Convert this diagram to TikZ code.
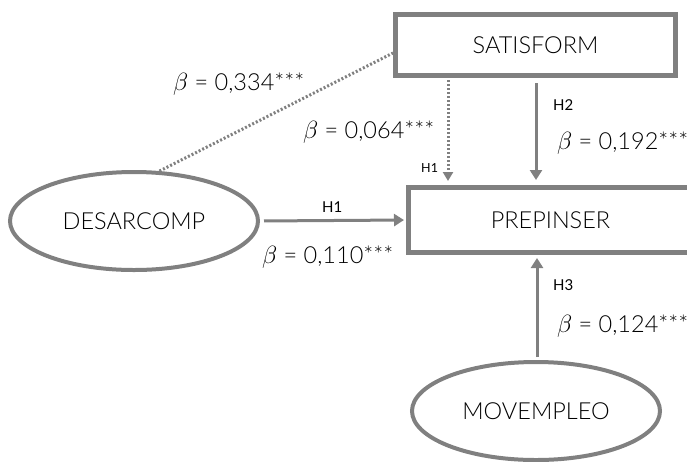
\documentclass[tikz,border=0pt]{standalone}
\usepackage{fontspec}
\setmainfont{Lato Light}
\newfontfamily\hfont{Lato}
\usetikzlibrary{arrows.meta,shapes.geometric}
\definecolor{ln}{RGB}{128,128,128}
\begin{document}
\begin{tikzpicture}[x=1pt,y=-1pt,
  box/.style={draw=ln,line width=5pt,rectangle,inner sep=0pt,font=\fontsize{23.5}{26}\selectfont},
  ell/.style={draw=ln,line width=4pt,ellipse,inner sep=0pt,minimum width=248pt,minimum height=98pt,font=\fontsize{23.5}{26}\selectfont},
  arr/.style={draw=ln,line width=3pt,-{Triangle[width=12pt,length=10pt]}},
  dotarr/.style={draw=ln,line width=3pt,dash pattern=on 2pt off 2pt,-{Triangle[width=10pt,length=9pt]}},
  dotline/.style={draw=ln,line width=3pt,dash pattern=on 2pt off 2pt},
  coef/.style={inner sep=0pt,anchor=base west,font=\fontsize{23.5}{26}\selectfont},
  hlab/.style={inner sep=0pt,anchor=base west,font=\hfont\fontsize{15}{17}\selectfont}]
\useasboundingbox (0,0) rectangle (687,461);
\clip (0,0) rectangle (687,461);
\node[box,minimum width=280pt,minimum height=61pt] (sat) at (535.5,45) {SATISFORM};
\node[box,minimum width=284pt,minimum height=65pt] (prep) at (550.5,220) {PREPINSER};
\node[ell] (des) at (134,221) {DESARCOMP};
\node[ell] (mov) at (536,411) {MOVEMPLEO};
\coordinate (xd) at (448,0);
\coordinate (xs) at (536,0);
\coordinate (xm) at (537,0);
\draw[dotline] (des.63) -- ([yshift=-8pt]sat.west);
\draw[dotarr,shorten <=2pt,shorten >=4pt] (sat.south -| xd) -- (prep.north -| xd);
\draw[arr,shorten <=5pt,shorten >=5pt] (sat.south -| xs) -- (prep.north -| xs);
\draw[arr,shorten <=4pt,shorten >=2pt] (des.east) -- (prep.west);
\draw[arr,shorten <=3pt,shorten >=3pt] (mov.north -| xm) -- (prep.south -| xm);
\node[coef] (c1) at (173,90) {$\beta$ = 0,334***};
\node[coef] (c2) at (303,138) {$\beta$ = 0,064***};
\node[coef] (c3) at (262,263) {$\beta$ = 0,110***};
\node[coef] (c4) at (557,149) {$\beta$ = 0,192***};
\node[coef] (c5) at (557,332) {$\beta$ = 0,124***};
\node[hlab,font=\hfont\fontsize{12.5}{15}\selectfont] (h1a) at (421,172) {H1};
\node[hlab] (h1b) at (322,212) {H1};
\node[hlab] (h2) at (553,110) {H2};
\node[hlab] (h3) at (553,290) {H3};
\end{tikzpicture}
\end{document}
